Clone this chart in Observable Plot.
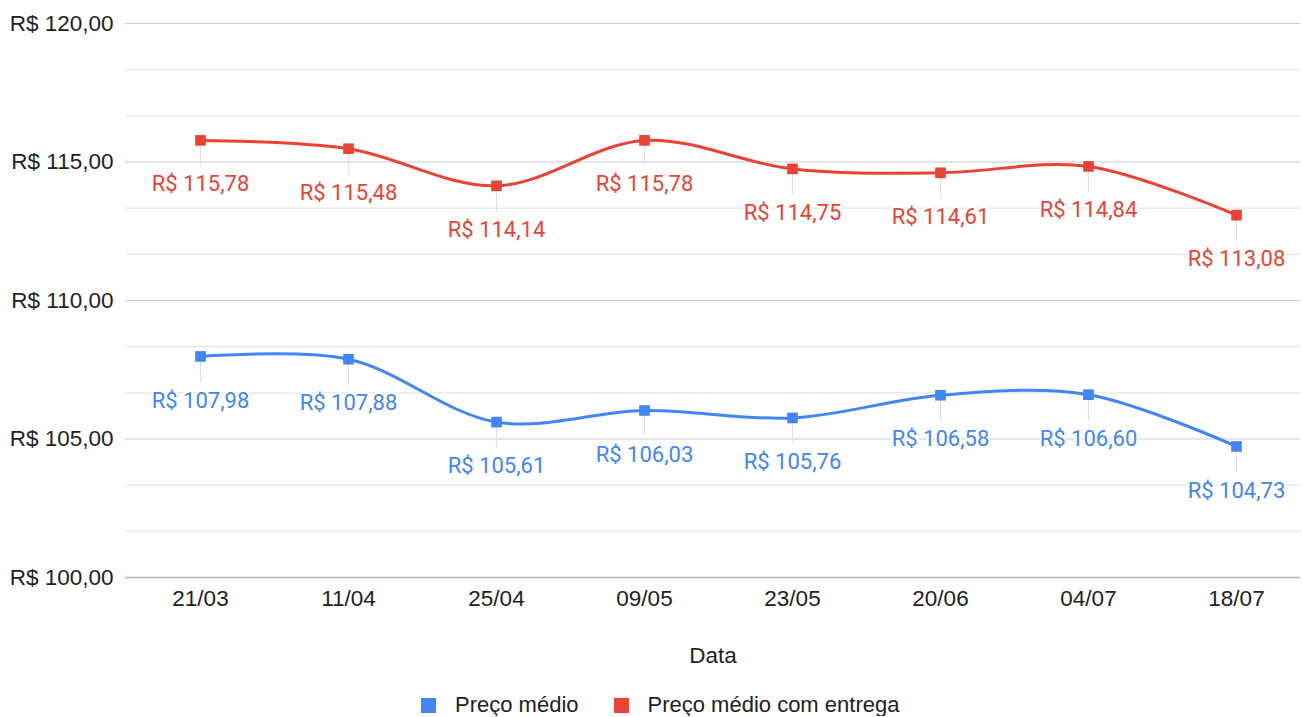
<!DOCTYPE html>
<html>
<head>
<meta charset="utf-8">
<script src="https://cdn.jsdelivr.net/npm/d3@7"></script>
<script src="https://cdn.jsdelivr.net/npm/@observablehq/plot@0.6"></script>
<style>
  html, body { margin: 0; padding: 0; background: #fff; }
  #chart svg { display: block; }
  #legend { display: flex; align-items: center; height: 22px; margin-top: 14px; padding-left: 421px;
    font-family: "Liberation Sans", Arial, sans-serif; font-size: 22px; color: #222; }
  .sw { width: 15px; height: 15px; display: inline-block; margin-right: 19px; }
  .item { display: flex; align-items: center; margin-right: 35px; }
</style>
</head>
<body>
<div id="chart"></div>
<div id="legend"></div>
<script>
const dates = ["21/03", "11/04", "25/04", "09/05", "23/05", "20/06", "04/07", "18/07"];
const precoMedio = [107.98, 107.88, 105.61, 106.03, 105.76, 106.58, 106.60, 104.73];
const precoEntrega = [115.78, 115.48, 114.14, 115.78, 114.75, 114.61, 114.84, 113.08];
const seriesNames = ["Preço médio", "Preço médio com entrega"];
const seriesColors = ["#4285F4", "#EA4335"];
const majorTicks = [100, 105, 110, 115, 120];
const minorTicks = [101.6667, 103.3333, 106.6667, 108.3333, 111.6667, 113.3333, 116.6667, 118.3333];

const fmt = v => "R$ " + v.toFixed(2).replace(".", ",");

const data = [];
[precoMedio, precoEntrega].forEach((arr, s) => {
  arr.forEach((v, i) => data.push({date: dates[i], value: v, series: seriesNames[s]}));
});

const plot = Plot.plot({
  width: 1302,
  height: 680,
  marginLeft: 125,
  marginRight: 2,
  marginTop: 23,
  marginBottom: 103,
  style: {fontFamily: "Roboto, sans-serif", background: "#fff"},
  x: {type: "point", domain: dates, range: [199, 1236], padding: 0, label: null},
  y: {domain: [100, 120], label: null},
  color: {domain: seriesNames, range: seriesColors},
  marks: [
    Plot.ruleY(minorTicks, {stroke: "#e6e6e6", strokeWidth: 1.2}),
    Plot.ruleY(majorTicks.slice(1), {stroke: "#cccccc", strokeWidth: 1.2}),
    Plot.ruleY([100], {stroke: "#b5b5b5", strokeWidth: 1.5}),
    Plot.axisY({ticks: majorTicks, tickSize: 0, tickPadding: 12, tickFormat: fmt,
      fontSize: 22.5, fill: "#222", fontFamily: "'Liberation Sans', Arial, sans-serif", label: null}),
    Plot.axisX({tickSize: 0, tickPadding: 13, fontSize: 22.5, fill: "#222",
      fontFamily: "'Liberation Sans', Arial, sans-serif", label: null}),
    Plot.text(["Data"], {frameAnchor: "bottom", dy: 78, fontSize: 22.5, fill: "#222",
      fontFamily: "'Liberation Sans', Arial, sans-serif", lineAnchor: "middle"}),
    Plot.ruleX(data, {x: "date", y1: "value", y2: "value", insetBottom: -26, stroke: "#e0e0e0", strokeWidth: 1.2}),
    Plot.text(data, {x: "date", y: "value", text: d => fmt(d.value), fill: "series", dy: 44,
      fontSize: 22, lineAnchor: "middle", stroke: "white", strokeWidth: 4, paintOrder: "stroke"}),
    Plot.line(data, {x: "date", y: "value", stroke: "series", z: "series", curve: "catmull-rom", strokeWidth: 3}),
    Plot.dot(data, {x: "date", y: "value", fill: "series", symbol: "square", r: 6})
  ]
});
document.getElementById("chart").appendChild(plot);

const legend = document.getElementById("legend");
seriesNames.forEach((n, i) => {
  const it = document.createElement("div");
  it.className = "item";
  it.innerHTML = `<span class="sw" style="background:${seriesColors[i]}"></span><span>${n}</span>`;
  legend.appendChild(it);
});
</script>
</body>
</html>
